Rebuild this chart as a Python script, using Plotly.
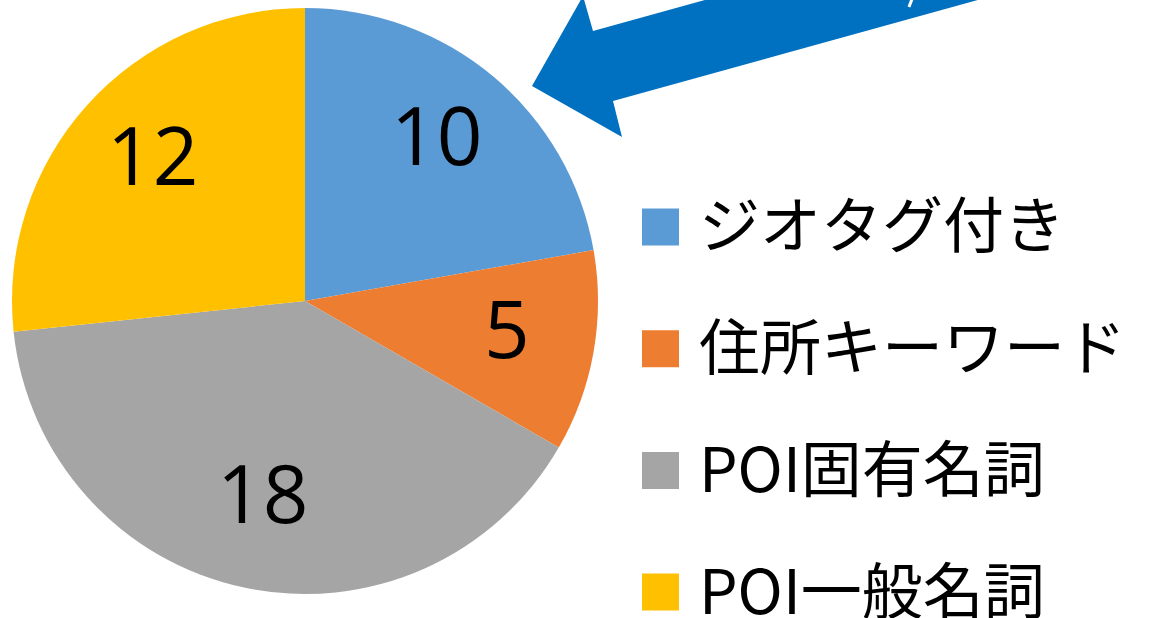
import numpy as np
import plotly.graph_objects as go

labels = ["ジオタグ付き", "住所キーワード", "POI固有名詞", "POI一般名詞"]
values = [10, 5, 18, 12]
colors = ["#5B9BD5", "#ED7D31", "#A5A5A5", "#FFC000"]

W, H = 1153, 618
cx, cy, R = 305, 301, 293  # pixel geometry of the pie

def px(x):
    return x / W

def py(y):
    return (H - y) / H

fig = go.Figure()
fig.add_trace(go.Pie(
    labels=labels, values=values, sort=False, direction="clockwise", rotation=0,
    marker=dict(colors=colors, line=dict(width=0)),
    textinfo="none", hoverinfo="label+value", showlegend=False,
    domain=dict(x=[px(cx - R), px(cx + R)], y=[py(cy + R), py(cy - R)]),
))

# value labels placed at slice mid-angles
total = sum(values)
cum = np.cumsum([0] + values)
annotations = []
for i, v in enumerate(values):
    mid = (cum[i] + v / 2) / total * 2 * np.pi
    r = 0.70 * R
    x = cx + r * np.sin(mid)
    y = cy - r * np.cos(mid)
    annotations.append(dict(
        x=px(x), y=py(y), xref="paper", yref="paper", text=str(v), showarrow=False,
        font=dict(family="Open Sans, Noto Sans, sans-serif", size=80, color="black"),
        xanchor="center", yanchor="middle", yshift=10,
    ))

# manual legend
shapes = []
leg_x0, leg_y0, leg_dy, sq = 642, 227, 121.7, 37
for i, (lab, col) in enumerate(zip(labels, colors)):
    yc = leg_y0 + i * leg_dy
    shapes.append(dict(type="rect", xref="paper", yref="paper",
                       x0=px(leg_x0), x1=px(leg_x0 + sq), y0=py(yc + sq / 2), y1=py(yc - sq / 2),
                       fillcolor=col, line=dict(width=0)))
    annotations.append(dict(
        x=px(697), y=py(yc - 5), xref="paper", yref="paper", text=lab, showarrow=False,
        font=dict(family="Noto Sans CJK JP, sans-serif", size=61, color="black"),
        xanchor="left", yanchor="middle",
    ))

# blue arrow pointing at the geotag slice
arrow_pts = [(532, 86), (622, 137), (613, 101), (1050, -20), (777, -20), (593, 31), (583, -4)]
path = "M " + " L ".join(f"{px(x):.5f},{py(y):.5f}" for x, y in arrow_pts) + " Z"
shapes.append(dict(type="path", xref="paper", yref="paper", path=path,
                   fillcolor="#0070C0", line=dict(width=0)))
shapes.append(dict(type="line", xref="paper", yref="paper",
                   x0=px(909), y0=py(7), x1=px(912), y1=py(-1),
                   line=dict(color="white", width=3)))

fig.update_layout(
    width=W, height=H, margin=dict(l=0, r=0, t=0, b=0),
    paper_bgcolor="white", plot_bgcolor="white",
    annotations=annotations, shapes=shapes, showlegend=False,
)
fig.write_html("out.html", config={"displayModeBar": False},
               post_script="document.body.style.margin='0';document.body.style.overflow='hidden';")
